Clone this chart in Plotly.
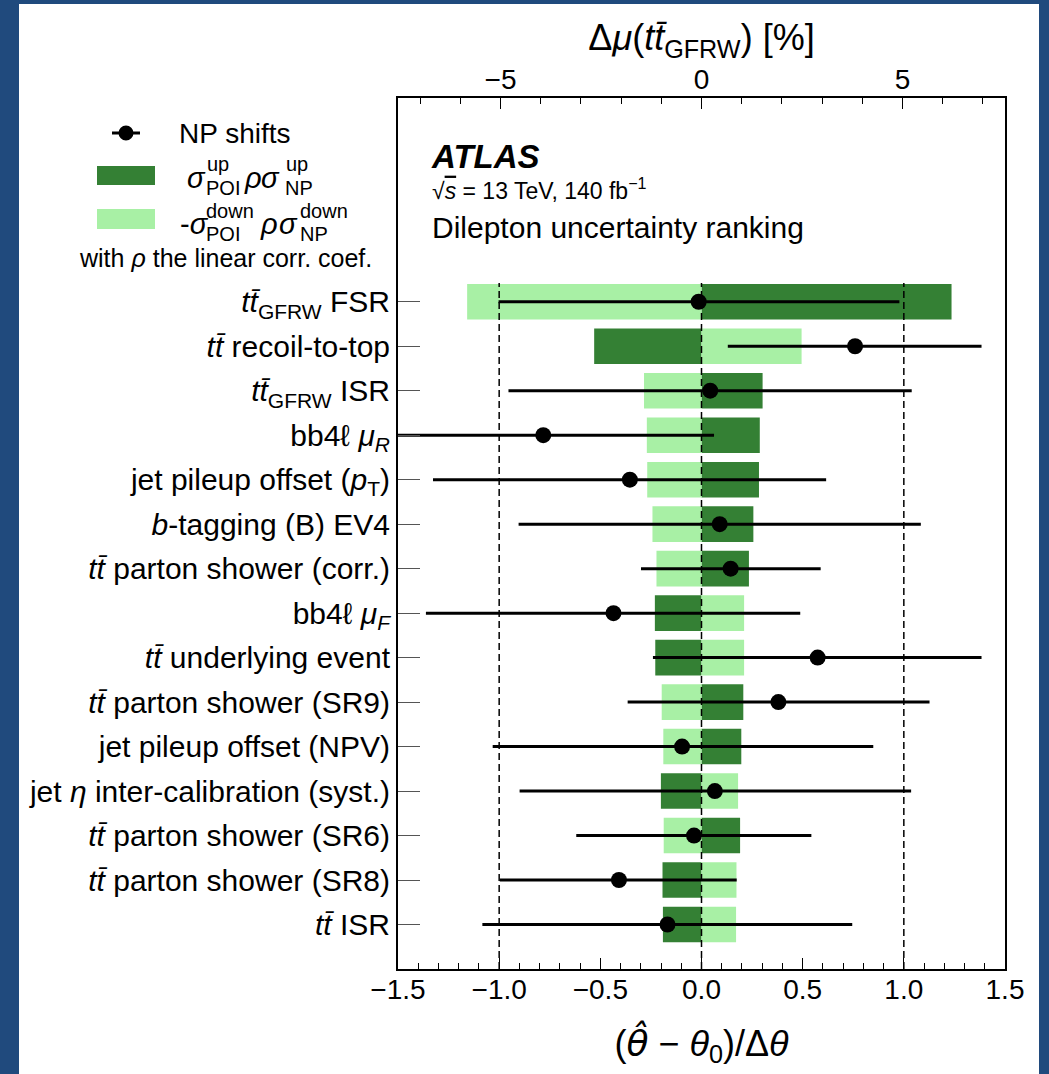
import plotly.graph_objects as go

FONT = "Liberation Sans, Arial, Helvetica, sans-serif"
DARK = "#348034"
LIGHT = "#a8f0a5"
BLUE = "#204a7d"

# nuisance parameters, top to bottom
labels = [
    "<i>tt\u0304</i><sub>GFRW</sub> FSR",
    "<i>tt\u0304</i> recoil-to-top",
    "<i>tt\u0304</i><sub>GFRW</sub> ISR",
    "bb4\u2113 <i>\u03bc<sub>R</sub></i>",
    "jet pileup offset (<i>p</i><sub>T</sub>)",
    "<i>b</i>-tagging (B) EV4",
    "<i>tt\u0304</i> parton shower (corr.)",
    "bb4\u2113 <i>\u03bc<sub>F</sub></i>",
    "<i>tt\u0304</i> underlying event",
    "<i>tt\u0304</i> parton shower (SR9)",
    "jet pileup offset (NPV)",
    "jet <i>\u03b7</i> inter-calibration (syst.)",
    "<i>tt\u0304</i> parton shower (SR6)",
    "<i>tt\u0304</i> parton shower (SR8)",
    "<i>tt\u0304</i> ISR",
]

# impact on mu in percent (top axis)
impact_up = [6.22, -2.67, 1.52, 1.45, 1.43, 1.29, 1.18, -1.16, -1.15, 1.04, 0.99, -1.01, 0.96, -0.97, -0.96]
impact_down = [-5.83, 2.49, -1.43, -1.36, -1.35, -1.22, -1.12, 1.06, 1.06, -0.99, -0.95, 0.91, -0.94, 0.87, 0.86]

# pulls and constraints (bottom axis)
pull = [-0.014, 0.759, 0.043, -0.782, -0.354, 0.090, 0.144, -0.435, 0.574, 0.380, -0.096, 0.066, -0.037, -0.408, -0.168]
pull_err_lo = [0.989, 0.629, 0.997, 0.845, 0.973, 0.994, 0.443, 0.927, 0.814, 0.745, 0.936, 0.965, 0.582, 0.589, 0.915]
pull_err_hi = [0.992, 0.625, 0.996, 0.844, 0.970, 0.994, 0.445, 0.923, 0.810, 0.747, 0.945, 0.970, 0.580, 0.582, 0.913]

W, H = 1049, 1074
L, R, T, B = 398, 1005, 98, 969


def px_x(px):
    return (px - L) / (R - L)


def px_y(py):
    return (B - py) / (B - T)


fig = go.Figure()

fig.add_trace(go.Bar(y=labels, x=impact_up, base=0, orientation="h", xaxis="x2", width=0.8,
                     marker=dict(color=DARK, line_width=0), name="up"))
fig.add_trace(go.Bar(y=labels, x=impact_down, base=0, orientation="h", xaxis="x2", width=0.8,
                     marker=dict(color=LIGHT, line_width=0), name="down"))
# pulls go on a hidden copy of the bottom axis so they are drawn above the bars
fig.add_trace(go.Scatter(
    y=labels, x=pull, mode="markers", xaxis="x3",
    marker=dict(color="black", size=16),
    error_x=dict(type="data", symmetric=False, array=pull_err_hi, arrayminus=pull_err_lo,
                 width=0, thickness=3, color="black"),
    name="NP shifts"))

for xv in [-1, 0, 1]:
    fig.add_shape(type="line", xref="x", yref="y", x0=xv, x1=xv, y0=-1, y1=14.42,
                  line=dict(color="black", width=1.5, dash="7px,4px"), layer="above")

# white page inside the blue frame
fig.add_shape(type="rect", xref="paper", yref="paper", x0=px_x(19), x1=px_x(1039),
              y0=px_y(1080), y1=px_y(4), fillcolor="white", line_width=0, layer="below")


def note(text, x, y, size, xanchor="left"):
    fig.add_annotation(text=text, x=px_x(x), y=px_y(y), xref="paper", yref="paper",
                       showarrow=False, xanchor=xanchor, yanchor="middle",
                       font=dict(size=size, color="black", family=FONT))


# legend
fig.add_shape(type="line", xref="paper", yref="paper", x0=px_x(112), x1=px_x(140),
              y0=px_y(133), y1=px_y(133), line=dict(color="black", width=3))
fig.add_shape(type="circle", xref="paper", yref="paper", x0=px_x(118.5), x1=px_x(133.5),
              y0=px_y(140.5), y1=px_y(125.5), fillcolor="black", line_width=0)
fig.add_shape(type="rect", xref="paper", yref="paper", x0=px_x(97), x1=px_x(155),
              y0=px_y(185), y1=px_y(166), fillcolor=DARK, line_width=0)
fig.add_shape(type="rect", xref="paper", yref="paper", x0=px_x(97), x1=px_x(155),
              y0=px_y(229), y1=px_y(209), fillcolor=LIGHT, line_width=0)

note("NP shifts", 177, 134, 28)
note("<i>\u03c3</i>", 185, 178, 29)
note("up", 205, 164, 20)
note("POI", 204, 188, 20)
note("<i>\u03c1</i>", 242, 178, 29)
note("<i>\u03c3</i>", 259, 178, 29)
note("up", 284, 164, 20)
note("NP", 283, 188, 20)
note("-<i>\u03c3</i>", 178, 224, 29)
note("down", 204, 211, 20)
note("POI", 204, 234, 20)
note("<i>\u03c1</i>", 258, 224, 29)
note("<i>\u03c3</i>", 277, 224, 29)
note("down", 298, 211, 20)
note("NP", 298, 234, 20)
note("with <i>\u03c1</i> the linear corr. coef.", 77, 258, 25)

# ATLAS label
note("<b><i>ATLAS</i></b>", 429, 156, 33)
note("\u221a<span style='text-decoration:overline'><i>s</i></span> = 13 TeV, 140 fb<sup>\u22121</sup>",
     430, 189, 23)
note("Dilepton uncertainty ranking", 430, 227, 30)

axis_font = dict(size=28, color="black", family=FONT)
title_font = dict(size=36, color="black", family=FONT)
label_font = dict(size=30, color="black", family=FONT)

fig.update_layout(
    width=W, height=H,
    margin=dict(l=L, r=W - R, t=T, b=H - B, pad=0),
    paper_bgcolor=BLUE, plot_bgcolor="white",
    barmode="overlay", bargap=0.2, showlegend=False,
    font=dict(family=FONT, color="black"),
    xaxis=dict(range=[-1.5, 1.5], tick0=0, dtick=0.5, tickformat=".1f",
               ticks="inside", ticklen=11, tickwidth=1.2, tickcolor="black",
               minor=dict(dtick=0.1, ticks="inside", ticklen=6, tickwidth=1, tickcolor="black"),
               showline=True, linecolor="black", linewidth=2, mirror=True,
               showgrid=False, zeroline=False, tickfont=axis_font, ticklabelstandoff=-6,
               title=dict(text="(<span style='font-family:DejaVu Sans'><i>\u03b8\u0302</i></span>"
                               " \u2212 <i>\u03b8</i><sub>0</sub>)/\u0394<i>\u03b8</i>",
                          font=title_font, standoff=27)),
    xaxis2=dict(overlaying="x", side="top", range=[-7.55, 7.55], tickvals=[-5, 0, 5],
                ticks="inside", ticklen=11, tickwidth=1.2, tickcolor="black",
                minor=dict(dtick=1, ticks="inside", ticklen=6, tickwidth=1, tickcolor="black"),
                showline=True, linecolor="black", linewidth=2,
                showgrid=False, zeroline=False, tickfont=axis_font, ticklabelstandoff=-4,
                title=dict(text="\u0394<i>\u03bc</i>(<i>tt\u0304</i><sub>GFRW</sub>) [%]",
                           font=title_font, standoff=2)),
    xaxis3=dict(overlaying="x", range=[-1.5, 1.5], visible=False),
    yaxis=dict(categoryorder="array", categoryarray=labels[::-1], range=[-1, 18.58],
               ticks="inside", ticklen=22, tickwidth=1, tickcolor="#555",
               showline=True, linecolor="black", linewidth=2, mirror=True,
               showgrid=False, zeroline=False, tickfont=label_font, ticklabelstandoff=0),
)

fig.write_html("out.html", config={"displayModeBar": False},
               post_script="document.body.style.margin='0px';")
